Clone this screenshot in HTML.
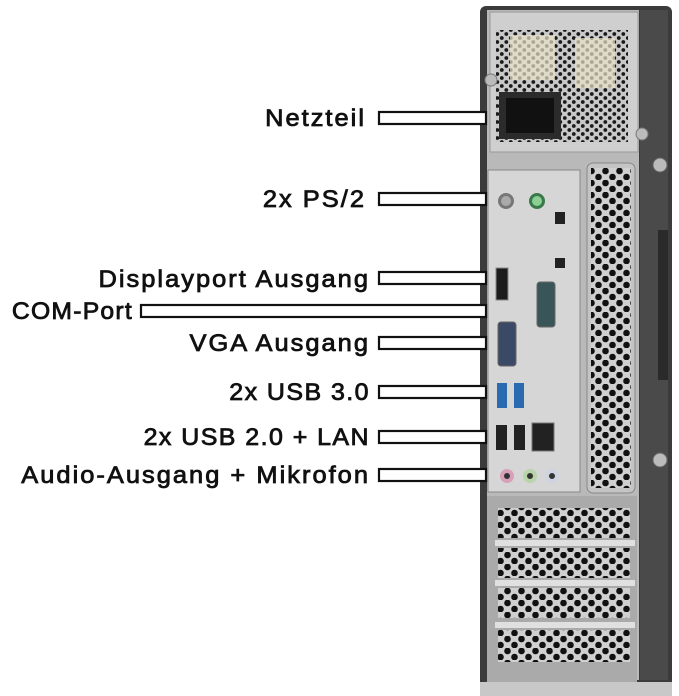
<!DOCTYPE html>
<html><head><style>
html,body{margin:0;padding:0;background:#fff;width:679px;height:696px;overflow:hidden}
</style></head><body>
<svg width="679" height="696" viewBox="0 0 679 696" xmlns="http://www.w3.org/2000/svg">
<defs>
<pattern id="hexS" width="9" height="8" patternUnits="userSpaceOnUse">
<rect width="9" height="8" fill="#c9c9c9"/>
<circle cx="2.3" cy="2" r="1.9" fill="#1a1a1a"/><circle cx="6.8" cy="6" r="1.9" fill="#1a1a1a"/>
</pattern>
<pattern id="hexL" width="14" height="12" patternUnits="userSpaceOnUse">
<rect width="14" height="12" fill="#d0d0d0"/>
<circle cx="3.5" cy="3" r="3.3" fill="#111"/><circle cx="10.5" cy="9" r="3.3" fill="#111"/>
</pattern>
</defs>
<rect x="480" y="6" width="192" height="690" rx="6" fill="#3b3b3b"/>
<rect x="487" y="10" width="152" height="670" fill="#b9b9b9"/>
<rect x="640" y="10" width="28" height="670" fill="#4a4a4a"/>
<rect x="658" y="230" width="10" height="150" fill="#2a2a2a"/>
<rect x="490" y="12" width="148" height="140" fill="#cfcfcf" stroke="#999"/>
<rect x="496" y="30" width="132" height="112" fill="url(#hexS)"/>
<rect x="510" y="35" width="45" height="45" fill="#e8e3c8" opacity="0.7"/>
<rect x="575" y="38" width="40" height="50" fill="#e8e3c8" opacity="0.7"/>
<rect x="499" y="92" width="62" height="47" fill="#2b2b2b"/>
<rect x="506" y="98" width="48" height="35" fill="#111"/>
<circle cx="491" cy="80" r="6" fill="#bbb" stroke="#777"/>
<circle cx="642" cy="134" r="6" fill="#bbb" stroke="#777"/>
<rect x="488" y="170" width="92" height="322" fill="#d6d6d6" stroke="#888"/>
<circle cx="506" cy="201" r="8" fill="#777"/><circle cx="506" cy="201" r="5" fill="#aaa"/>
<circle cx="537" cy="201" r="8" fill="#3a7a4a"/><circle cx="537" cy="201" r="5" fill="#8bcf95"/>
<rect x="555" y="212" width="10" height="12" fill="#222"/>
<rect x="555" y="258" width="10" height="10" fill="#222"/>
<rect x="496" y="268" width="12" height="32" fill="#1c1c1c" stroke="#888"/>
<rect x="537" y="282" width="18" height="45" rx="3" fill="#3a5558" stroke="#666"/>
<rect x="498" y="322" width="18" height="44" rx="3" fill="#3a4a66" stroke="#666"/>
<rect x="497" y="383" width="10" height="25" fill="#2a6bb0"/><rect x="514" y="383" width="10" height="25" fill="#2a6bb0"/>
<rect x="496" y="425" width="11" height="25" fill="#222"/><rect x="514" y="425" width="11" height="25" fill="#222"/>
<rect x="532" y="423" width="22" height="28" fill="#222" stroke="#777"/>
<circle cx="507" cy="476" r="7" fill="#d7a0b8"/><circle cx="507" cy="476" r="3" fill="#333"/>
<circle cx="530" cy="476" r="7" fill="#b9d4a8"/><circle cx="530" cy="476" r="3" fill="#333"/>
<circle cx="552" cy="476" r="7" fill="#cfd4e0"/><circle cx="552" cy="476" r="3" fill="#333"/>
<rect x="587" y="163" width="48" height="330" rx="6" fill="#c4c4c4" stroke="#888"/>
<rect x="591" y="168" width="40" height="320" fill="url(#hexL)"/>
<circle cx="660" cy="165" r="7" fill="#bbb" stroke="#666"/>
<circle cx="660" cy="460" r="7" fill="#bbb" stroke="#666"/>
<rect x="487" y="496" width="150" height="186" fill="#aaa"/>
<rect x="498" y="508" width="132" height="30" fill="url(#hexL)"/>
<rect x="495" y="540" width="140" height="6" fill="#e0e0e0"/>
<rect x="498" y="548" width="132" height="30" fill="url(#hexL)"/>
<rect x="495" y="580" width="140" height="6" fill="#e0e0e0"/>
<rect x="498" y="588" width="132" height="30" fill="url(#hexL)"/>
<rect x="495" y="622" width="140" height="6" fill="#e0e0e0"/>
<rect x="498" y="630" width="132" height="32" fill="url(#hexL)"/>
<rect x="480" y="682" width="192" height="14" fill="#c8c8c8"/>
<g fill="#fff" stroke="#111" stroke-width="2.2">
<rect x="379" y="112" width="107" height="12"/>
<rect x="379" y="193" width="107" height="12"/>
<rect x="379" y="272" width="107" height="12"/>
<rect x="141" y="305" width="345" height="12"/>
<rect x="379" y="337" width="107" height="12"/>
<rect x="379" y="386" width="107" height="12"/>
<rect x="379" y="431" width="107" height="12"/>
<rect x="379" y="469" width="107" height="12"/>
</g>
<g font-family="Liberation Sans, Arial, sans-serif" font-size="24" fill="#111" stroke="#111" stroke-width="0.8" text-anchor="end" letter-spacing="1.9">
<text transform="translate(366,126) scale(1.06,1)">Netzteil</text>
<text transform="translate(366,207) scale(1.06,1)">2x PS/2</text>
<text transform="translate(370,287) scale(1.06,1)">Displayport Ausgang</text>
<text transform="translate(133,319) scale(1.03,1)" letter-spacing="1.2">COM-Port</text>
<text transform="translate(370,351) scale(1.06,1)">VGA Ausgang</text>
<text transform="translate(370,400) scale(1.04,1)" letter-spacing="1.4">2x USB 3.0</text>
<text transform="translate(370,445) scale(1.04,1)" letter-spacing="1.4">2x USB 2.0 + LAN</text>
<text transform="translate(370,483) scale(1.06,1)">Audio-Ausgang + Mikrofon</text>
</g>
</svg>
</body></html>
